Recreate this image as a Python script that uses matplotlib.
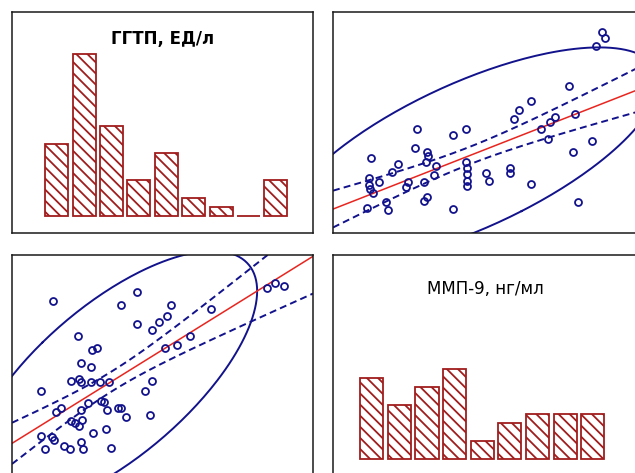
import numpy as np
import matplotlib
matplotlib.use('Agg')
import matplotlib.pyplot as plt

plt.rcParams['hatch.linewidth'] = 1.3
plt.rcParams['lines.scale_dashes'] = False

# histogram counts (9 bins each)
ggtp_counts = [8, 18, 10, 4, 7, 2, 1, 0, 4]
mmp_counts = [9, 6, 8, 10, 2, 4, 5, 5, 5]
ggtp_title = 'ГГТП, ЕД/л'
mmp_title = 'ММП-9, нг/мл'

# upper right cell: x = ММП-9, y = ГГТП (scaled units)
upper_x = [89.4, 90.4, 87.4, 78.4, 65.8, 61.8, 60.1, 80.4, 73.8, 72.1,
           69.1, 71.4, 86.0, 79.7, 81.4, 65.8, 27.9, 44.2, 39.9, 27.2,
           12.6, 31.2, 31.6, 21.6, 19.6, 30.9, 34.2, 44.2, 44.5, 44.5,
           44.5, 44.5, 50.8, 51.8, 58.8, 58.8, 12.0, 12.0, 12.3, 13.3,
           15.3, 24.9, 24.3, 30.2, 33.6, 31.2, 30.2, 17.6, 18.3, 11.3,
           39.9]
upper_y = [90.9, 88.2, 84.5, 66.4, 59.5, 55.5, 51.4, 53.6, 52.3, 50.0,
           46.8, 42.3, 41.4, 36.4, 13.6, 21.8, 46.8, 46.8, 44.1, 38.2,
           33.6, 36.4, 34.5, 30.9, 27.3, 31.8, 30.0, 31.8, 29.1, 26.4,
           23.2, 20.9, 26.8, 23.2, 29.1, 26.8, 24.5, 21.4, 19.5, 17.7,
           22.7, 22.7, 20.5, 22.7, 25.9, 15.9, 14.1, 13.6, 10.0, 10.9,
           10.5]

# lower left cell: x = ГГТП, y = ММП-9 (scaled units)
lower_x = [13.6, 41.5, 36.2, 52.8, 51.5, 48.8, 46.5, 41.5, 66.1, 21.9,
           26.6, 28.2, 59.1, 54.8, 50.8, 84.7, 87.4, 90.4, 22.9, 26.2,
           19.6, 22.3, 22.9, 26.2, 29.2, 32.2, 9.6, 46.5, 44.2, 29.6,
           30.6, 25.2, 31.6, 22.9, 35.2, 36.2, 37.9, 45.8, 16.3, 14.6,
           19.6, 20.9, 22.3, 23.3, 26.9, 31.2, 9.6, 13.3, 14.0, 17.3,
           19.3, 22.9, 23.6, 11.0, 32.9]
lower_y = [79.2, 83.3, 77.4, 77.4, 72.4, 69.7, 66.1, 68.8, 75.6, 63.3,
           57.0, 57.9, 63.3, 59.3, 57.9, 85.1, 87.3, 86.0, 51.1, 49.3,
           43.0, 43.9, 42.5, 42.5, 42.5, 42.5, 38.5, 43.0, 38.5, 33.9,
           33.5, 33.0, 29.9, 29.9, 30.8, 30.8, 26.7, 27.6, 30.8, 29.0,
           24.9, 24.0, 22.6, 25.3, 19.5, 21.3, 18.1, 17.6, 16.3, 13.6,
           12.2, 15.4, 12.2, 12.2, 12.7]

NAVY = '#12128c'
RED = '#e8251f'
BAR = '#a01d1d'
T95 = 2.01    # t(0.975, df ~ 50)
F95 = 3.19    # F(0.95; 2, df ~ 50)

W, H = 635, 473
fig = plt.figure(figsize=(W / 100, H / 100), dpi=100)


def px_axes(left, top, w, h):
    ax = fig.add_axes([left / W, 1 - (top + h) / H, w / W, h / H])
    ax.set_xticks([])
    ax.set_yticks([])
    for sp in ax.spines.values():
        sp.set_linewidth(1.1)
        sp.set_color('#1a1a1a')
    return ax


def hist_cell(ax, counts, title, x0, ty, **kw):
    idx = np.arange(len(counts))
    ax.bar(idx, counts, width=0.84, color='white', edgecolor=BAR,
           linewidth=1.3, hatch='\\\\\\')
    ax.set_xlim(x0, x0 + 11.0)
    ax.set_ylim(-1.9, 22.7)
    ax.text(0.5, ty, title, transform=ax.transAxes, ha='center',
            va='center', fontsize=12, **kw)


def scatter_cell(ax, x, y, xlim, ylim):
    x = np.asarray(x)
    y = np.asarray(y)
    n = len(x)
    ax.set_xlim(*xlim)
    ax.set_ylim(*ylim)

    # 95% prediction ellipse
    cov = np.cov(x, y)
    vals, vecs = np.linalg.eigh(cov)
    r = np.sqrt(2 * (n - 1) * (n + 1) / (n * (n - 2)) * F95)
    t = np.linspace(0, 2 * np.pi, 300)
    circ = np.vstack([np.cos(t), np.sin(t)]) * r * np.sqrt(vals)[:, None]
    ell = vecs @ circ
    ax.plot(ell[0] + x.mean(), ell[1] + y.mean(), color=NAVY, lw=1.4)

    # linear fit with 95% confidence band
    b, a = np.polyfit(x, y, 1)
    s = np.sqrt(np.sum((y - (a + b * x)) ** 2) / (n - 2))
    sxx = np.sum((x - x.mean()) ** 2)
    xs = np.linspace(xlim[0], xlim[1], 200)
    fit = a + b * xs
    half = T95 * s * np.sqrt(1 / n + (xs - x.mean()) ** 2 / sxx)
    for sign in (1, -1):
        ax.plot(xs, fit + sign * half, color=NAVY, lw=1.4, dashes=(5, 3))
    ax.plot(xs, fit, color=RED, lw=1.1)

    ax.plot(x, y, 'o', mfc='none', mec=NAVY, ms=5, mew=1.3, ls='none')


ax_tl = px_axes(12, 12, 301, 221)
hist_cell(ax_tl, ggtp_counts, ggtp_title, -1.64, 0.878, fontweight='bold')

ax_tr = px_axes(333, 12, 304, 221)
scatter_cell(ax_tr, upper_x, upper_y, (0, 101), (-0.45, 100))

ax_bl = px_axes(12, 255, 301, 221)
scatter_cell(ax_bl, lower_x, lower_y, (0, 100), (0, 100))

ax_br = px_axes(333, 255, 304, 221)
hist_cell(ax_br, mmp_counts, mmp_title, -1.40, 0.846)

fig.savefig('out.png', dpi=100)
